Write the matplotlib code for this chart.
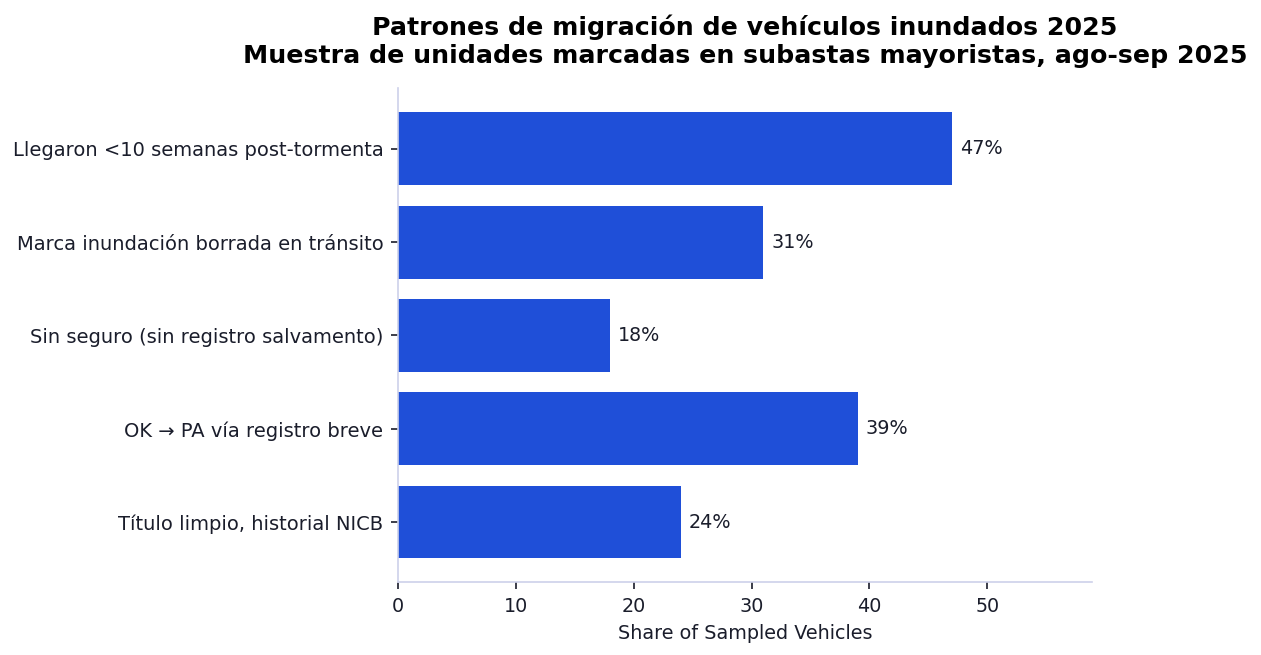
import matplotlib.pyplot as plt

# Data
categories = [
    "Llegaron <10 semanas post-tormenta",
    "Marca inundación borrada en tránsito",
    "Sin seguro (sin registro salvamento)",
    "OK → PA vía registro breve",
    "Título limpio, historial NICB",
]
shares = [47, 31, 18, 39, 24]

bar_color = "#1f4fd8"
spine_color = "#cdd1ea"
text_color = "#1a1d2b"

fig, ax = plt.subplots(figsize=(8.407, 4.367), dpi=150)
fig.subplots_adjust(left=0.3156, right=0.866, top=0.866, bottom=0.111)

y = list(range(len(categories)))
ax.barh(y, shares, height=0.78, color=bar_color)
ax.set_ylim(4.645, -0.655)
ax.set_yticks(y)
ax.set_yticklabels(categories, fontsize=9.35, color=text_color)

for yi, v in zip(y, shares):
    ax.text(v + 0.7, yi, f"{v}%", va="center", ha="left", fontsize=9.2, color=text_color)

ax.set_xlim(0, 58.9)
ax.set_xticks([0, 10, 20, 30, 40, 50])
ax.tick_params(axis="x", labelsize=9.2, colors=text_color, color=text_color)
ax.tick_params(axis="y", color=text_color)
ax.set_xlabel("Share of Sampled Vehicles", fontsize=9.2, color=text_color)

for side in ["top", "right"]:
    ax.spines[side].set_visible(False)
for side in ["left", "bottom"]:
    ax.spines[side].set_color(spine_color)

ax.set_title("Patrones de migración de vehículos inundados 2025\n"
             "Muestra de unidades marcadas en subastas mayoristas, ago-sep 2025",
             fontsize=12.1, fontweight="bold", color="black", pad=12)

plt.savefig("out.png", dpi=150)
